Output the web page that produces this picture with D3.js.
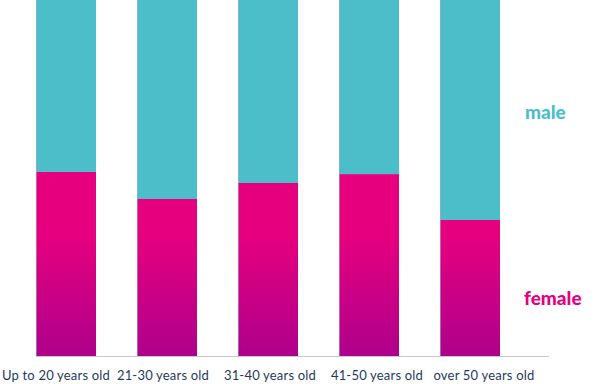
<!DOCTYPE html>
<html><head><meta charset="utf-8">
<script src="https://cdn.jsdelivr.net/npm/d3@7"></script>
<style>body{margin:0;background:#fff}svg{display:block}</style>
</head><body><svg id="c" width="597" height="384"></svg>
<script>
const categories = ["Up to 20 years old","21-30 years old","31-40 years old","41-50 years old","over 50 years old"];
const female = [51.7, 44.1, 48.6, 51.1, 38.2];
const male = [48.3, 55.9, 51.4, 48.9, 61.8];
const seriesNames = ["female","male"];

const svg = d3.select("#c");
const plotTop = 0, plotBottom = 356;
const x = d3.scaleBand().domain(categories).range([36, 500]).paddingInner(0.406).paddingOuter(0);
const xLab = d3.scaleBand().domain(categories).range([2.5, 537.5]);
const y = d3.scaleLinear().domain([0, 100]).range([plotBottom, plotTop]);

const defs = svg.append("defs");
const g = defs.append("linearGradient").attr("id","fg").attr("gradientUnits","userSpaceOnUse")
  .attr("x1",0).attr("x2",0).attr("y1",235).attr("y2",plotBottom);
g.append("stop").attr("offset","0%").attr("stop-color","#e6007e");
g.append("stop").attr("offset","100%").attr("stop-color","#ae008b");

const rows = categories.map((c,i)=>({cat:c, female:female[i], male:male[i]}));
const stacked = d3.stack().keys(seriesNames)(rows);
const fills = {female:"url(#fg)", male:"#4bbec9"};

svg.append("g").selectAll("g").data(stacked).join("g")
  .attr("fill", d=>fills[d.key])
  .selectAll("rect").data(d=>d).join("rect")
  .attr("x", d=>x(d.data.cat))
  .attr("width", x.bandwidth())
  .attr("y", d=>y(d[1]))
  .attr("height", d=>y(d[0])-y(d[1]));

svg.append("g").selectAll("line").data(categories).join("line")
  .attr("x1", d=>x(d)+0.5).attr("x2", d=>x(d)+0.5)
  .attr("y1", plotTop).attr("y2", plotBottom)
  .attr("stroke","#a9a6d4").attr("stroke-opacity",0.6).attr("stroke-width",1);

svg.append("line").attr("x1",36).attr("x2",549).attr("y1",plotBottom+0.5).attr("y2",plotBottom+0.5)
  .attr("stroke","#c8c8c8").attr("stroke-width",1);

svg.append("g").selectAll("text").data(categories).join("text")
  .attr("x", d=>xLab(d)+xLab.bandwidth()/2)
  .attr("y", 380)
  .attr("text-anchor","middle")
  .attr("font-family","Lato, 'Open Sans', sans-serif")
  .attr("font-size",13)
  .attr("letter-spacing",0.2)
  .attr("fill","#1f3a5c")
  .text(d=>d);

svg.append("text").attr("x",525).attr("y",119).attr("font-family","Lato, 'Open Sans', sans-serif")
  .attr("font-weight","900").attr("font-size",19).attr("fill","#4bbec9").text(seriesNames[1]);
svg.append("text").attr("x",524).attr("y",305).attr("font-family","Lato, 'Open Sans', sans-serif")
  .attr("font-weight","900").attr("font-size",19).attr("fill","#e6007e").text(seriesNames[0]);
</script></body></html>
